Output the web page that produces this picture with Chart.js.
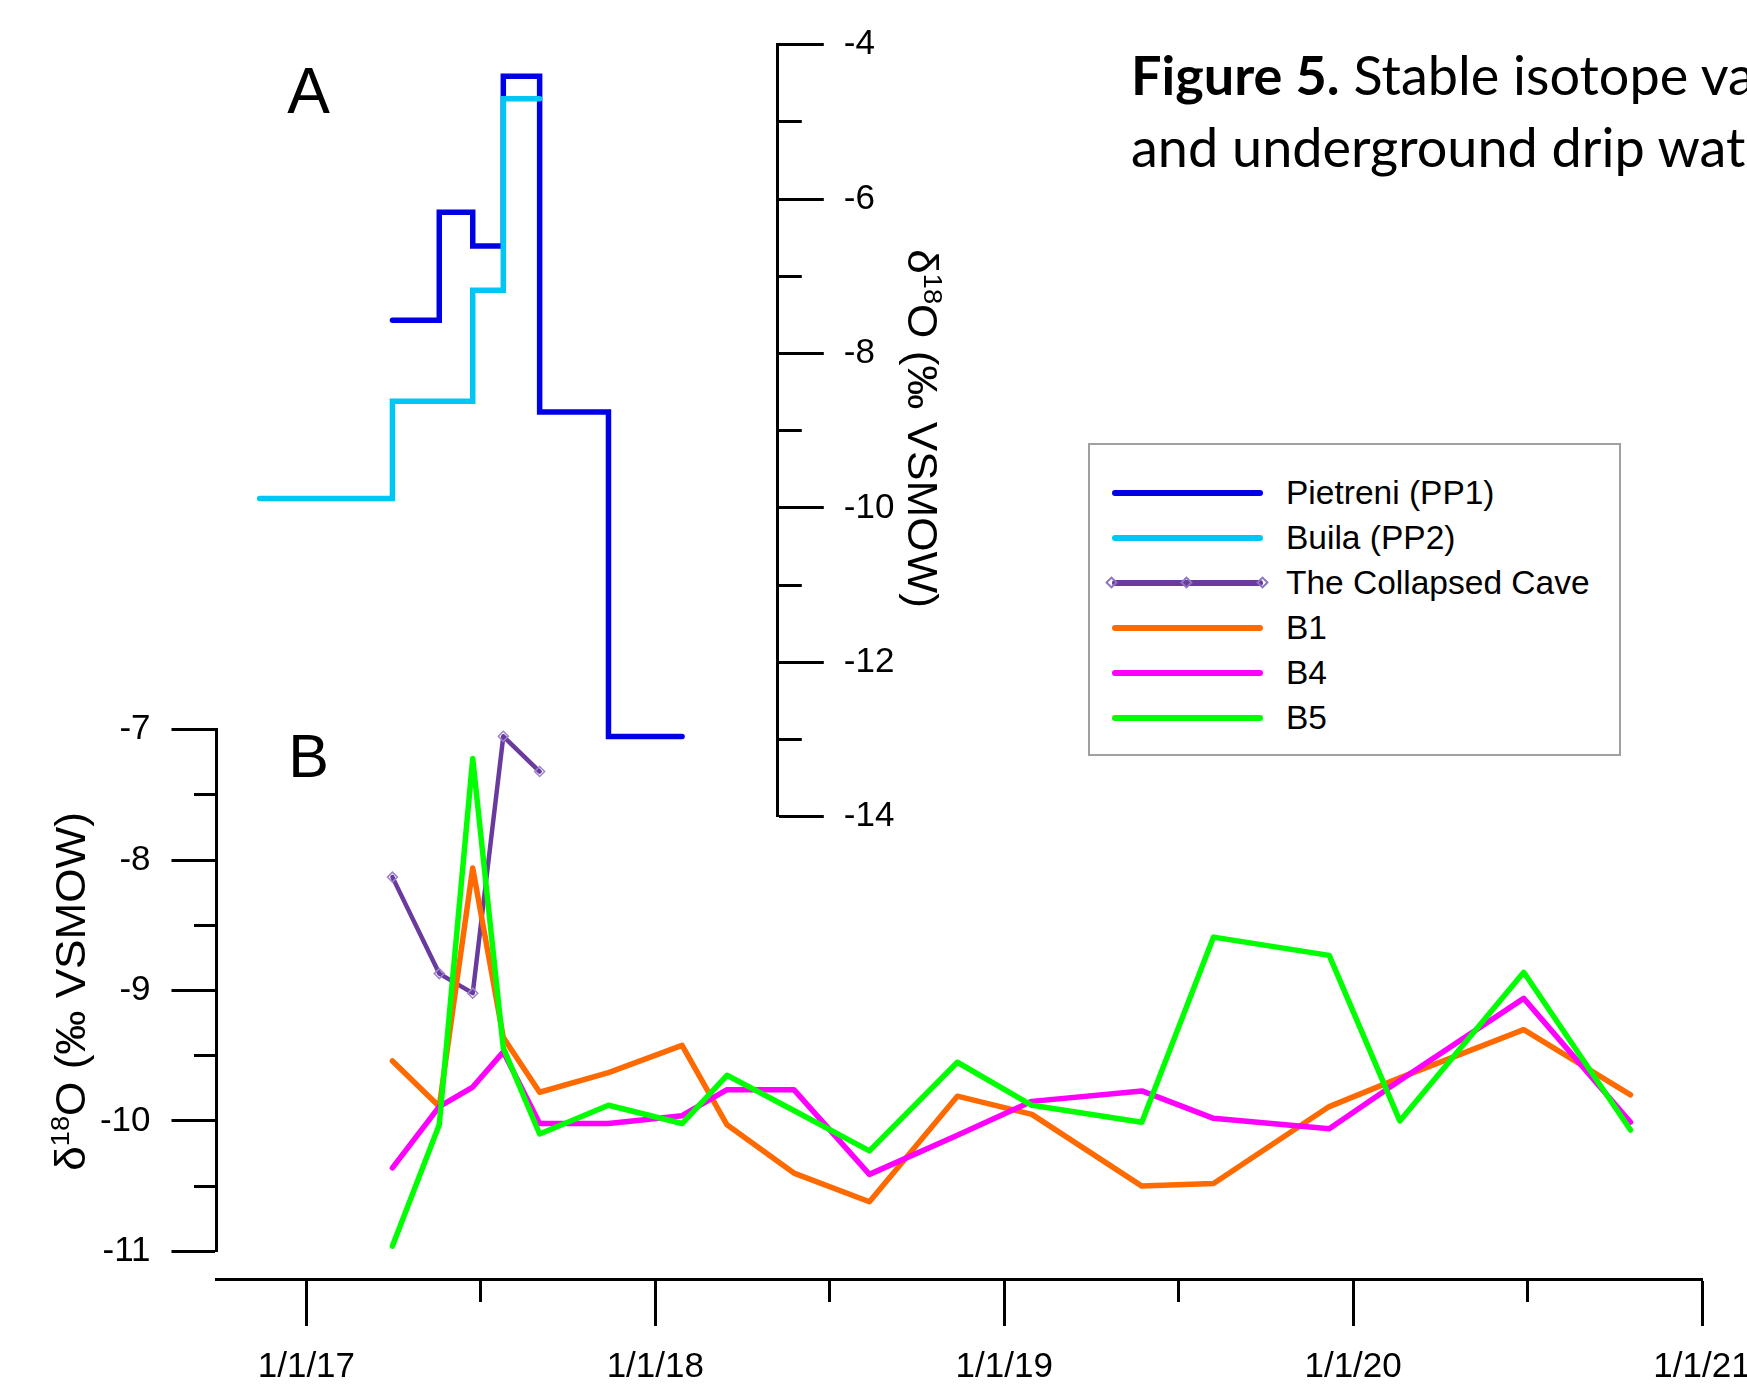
<!DOCTYPE html>
<html>
<head>
<meta charset="utf-8">
<script src="https://cdn.jsdelivr.net/npm/chart.js@4.4.1/dist/chart.umd.min.js"></script>
<style>
  html, body { margin: 0; padding: 0; background: #fff; }
  #wrap { position: relative; width: 1747px; height: 1385px; overflow: hidden; background: #fff; }
  #wrap canvas { position: absolute; left: 0; top: 0; }
  #caption {
    position: absolute; left: 1131px; top: 39px;
    font-family: Lato, "Open Sans", sans-serif; font-size: 54px; line-height: 72px;
    white-space: nowrap; color: #000;
  }
  #legend {
    position: absolute; left: 1088px; top: 443px; width: 533px; height: 313px;
    box-sizing: border-box; border: 2px solid #a0a0a0; background: #fff;
    font-family: "Liberation Sans", Arial, sans-serif; font-size: 33.5px; color: #000;
  }
  .row { position: absolute; left: 0; height: 0; }
  .sample { position: absolute; left: 22px; width: 151px; height: 6px; top: -3px; border-radius: 3px; }
  .dia { position: absolute; width: 9px; height: 9px; top: -5px; margin-left: -5px;
         transform: rotate(45deg); border: 2px solid #8f74c4; box-sizing: border-box; }
  .txt { position: absolute; left: 196px; top: -19px; white-space: nowrap; line-height: 38px; }
</style>
</head>
<body>
<div id="wrap">
  <canvas id="chartB" width="1747" height="1385"></canvas>
  <canvas id="chartA" width="1747" height="1385"></canvas>
  <div id="caption"><b>Figure 5.</b> Stable isotope values<br>and underground drip waters</div>
  <div id="legend"></div>
</div>
<script>
// Panel A: rain water (stepped)
const pp1Dates = ['2017-04-01', '2017-05-20', '2017-06-24', '2017-07-26', '2017-09-02', '2017-11-13', '2018-01-29'];
const pp1Values = [-7.57, -6.17, -6.61, -4.41, -8.76, -12.96, -12.96];
const pp2Dates = ['2016-11-13', '2017-04-01', '2017-06-24', '2017-07-26', '2017-09-02'];
const pp2Values = [-9.88, -8.62, -7.18, -4.70, -4.70];

// Panel B: drip water
const caveDates = ['2017-04-01', '2017-05-20', '2017-06-24', '2017-07-26', '2017-09-02'];
const caveValues = [-8.13, -8.87, -9.02, -7.05, -7.32];
const dripDates = ['2017-04-01', '2017-05-20', '2017-06-24', '2017-07-26', '2017-09-02', '2017-11-13',
  '2018-01-29', '2018-03-17', '2018-05-26', '2018-08-13', '2018-11-13', '2019-01-30',
  '2019-05-25', '2019-08-08', '2019-12-07', '2020-02-19', '2020-06-28', '2020-10-18'];
const b1Values = [-9.54, -9.89, -8.06, -9.36, -9.78, -9.63, -9.42, -10.03, -10.40, -10.62, -9.81, -9.95,
  -10.50, -10.48, -9.89, -9.67, -9.30, -9.80];
const b4Values = [-10.36, -9.89, -9.74, -9.47, -10.02, -10.02, -9.96, -9.76, -9.76, -10.41, -10.11, -9.85,
  -9.77, -9.98, -10.06, -9.69, -9.06, -10.01];
const b5Values = [-10.96, -10.03, -7.22, -9.44, -10.10, -9.88, -10.02, -9.65, -9.92, -10.23, -9.55, -9.88,
  -10.01, -8.59, -8.73, -10.00, -8.86, -10.07];

// tick labels
const yearTicks = [2017, 2018, 2019, 2020, 2021];
const halfYearTicks = [2017.5, 2018.5, 2019.5, 2020.5];
const ticksA = [-4, -6, -8, -10, -12, -14];
const minorTicksA = [-5, -7, -9, -11, -13];
const ticksB = [-7, -8, -9, -10, -11];
const minorTicksB = [-7.5, -8.5, -9.5, -10.5];

// layout (pixels)
const X2017 = 306.4, PX_PER_YEAR = 348.9;
const B_LEFT = 216.5, B_RIGHT = 1702, B_TOP = 729.8, B_BOTTOM = 1251.3, B_XAXIS = 1279.5;
const A_TOP = 44.6, A_BOTTOM = 816.7, A_AXIS = 777.8, A_LABELS = 200;
const xMin = 2017 - (X2017 - B_LEFT) / PX_PER_YEAR;
const xMaxA = 2017 + (A_AXIS - X2017) / PX_PER_YEAR;
const xAxisAt = -11 - (B_XAXIS - B_BOTTOM) * 4 / (B_BOTTOM - B_TOP);

const FONT = '"Liberation Sans", Arial, sans-serif';
Chart.defaults.font.family = FONT;
Chart.defaults.color = '#000';

function decimalYear(s) {
  const [y, m, d] = s.split('-').map(Number);
  const start = Date.UTC(y, 0, 1), end = Date.UTC(y + 1, 0, 1);
  return y + (Date.UTC(y, m - 1, d) - start) / (end - start);
}
function points(dates, values) {
  return dates.map((d, i) => ({ x: decimalYear(d), y: values[i] }));
}
function fixedTicks(values) {
  return scale => { scale.ticks = values.map(v => ({ value: v })); };
}
// fixed box size so the chart area lands where the picture has it
function boxSize(size) {
  return scale => {
    if (scale.isHorizontal()) scale.height = size; else scale.width = size;
    scale.paddingLeft = scale.paddingRight = scale.paddingTop = scale.paddingBottom = 0;
  };
}
function axis(opts) {
  return Object.assign({
    type: 'linear',
    afterFit: boxSize(opts.size || 0),
    grid: { drawOnChartArea: false, drawTicks: true, tickLength: opts.tick, tickWidth: 3, tickColor: '#000' },
    border: { display: !!opts.border, color: '#000', width: 3 },
    ticks: { display: !!opts.labels, autoSkip: false, maxRotation: 0, padding: opts.pad || 0,
             font: { size: 35 }, color: '#000', callback: opts.labels || (v => '') }
  }, opts.extra);
}

// δ18O title with superscript, drawn on the canvas
function isoTitle(ctx, x, y, angle, size) {
  const parts = [['δ', size, 0], ['18', Math.round(size * 0.62), -0.38 * size], ['O (‰ VSMOW)', size, 0]];
  ctx.save();
  ctx.translate(x, y);
  ctx.rotate(angle);
  ctx.scale(1.05, 1);
  ctx.fillStyle = '#000';
  ctx.textBaseline = 'alphabetic';
  let total = 0;
  parts.forEach(p => { ctx.font = p[1] + 'px ' + FONT; total += ctx.measureText(p[0]).width; });
  let cx = -total / 2;
  parts.forEach(p => {
    ctx.font = p[1] + 'px ' + FONT;
    ctx.fillText(p[0], cx, p[2]);
    cx += ctx.measureText(p[0]).width;
  });
  ctx.restore();
}
function panelDecor(letter, letterSize, letterBase, title) {
  return {
    id: 'decor' + letter,
    afterDraw(chart) {
      const ctx = chart.ctx;
      ctx.save();
      ctx.fillStyle = '#000';
      ctx.font = letterSize + 'px ' + FONT;
      ctx.textAlign = 'center';
      ctx.textBaseline = 'alphabetic';
      ctx.fillText(letter, 308.5, letterBase);
      ctx.restore();
      isoTitle(ctx, title.x, title.y, title.angle, 42);
    }
  };
}

const lineStyle = { pointRadius: 0, tension: 0, borderWidth: 5.5, borderJoinStyle: 'round', borderCapStyle: 'round',
                    xAxisID: 'x', yAxisID: 'y' };

const chartB = new Chart(document.getElementById('chartB'), {
  type: 'line',
  data: {
    datasets: [
      Object.assign({ label: 'B5', data: points(dripDates, b5Values), borderColor: '#00ff00' }, lineStyle),
      Object.assign({ label: 'B4', data: points(dripDates, b4Values), borderColor: '#ff00ff' }, lineStyle),
      Object.assign({ label: 'B1', data: points(dripDates, b1Values), borderColor: '#ff6a00' }, lineStyle),
      Object.assign({}, lineStyle, {
        label: 'The Collapsed Cave', data: points(caveDates, caveValues), borderColor: '#6a3b9e', borderWidth: 4.5,
        pointRadius: 5, pointStyle: 'rectRot', pointBorderColor: '#9c84ca', pointBackgroundColor: 'rgba(0,0,0,0)',
        pointBorderWidth: 1.5
      })
    ]
  },
  options: {
    responsive: false, animation: false, events: [],
    layout: { padding: { left: 0, right: 1747 - B_RIGHT, top: B_TOP, bottom: 1385 - B_BOTTOM } },
    plugins: { legend: { display: false }, tooltip: { enabled: false } },
    scales: {
      x: axis({ tick: 45, border: true, pad: 22, labels: v => '1/1/' + String(v).slice(2),
                extra: { position: { y: xAxisAt }, min: xMin, max: 2021, afterBuildTicks: fixedTicks(yearTicks) } }),
      xm: axis({ tick: 22, extra: { position: { y: xAxisAt }, min: xMin, max: 2021, afterBuildTicks: fixedTicks(halfYearTicks) } }),
      y: axis({ tick: 45, border: true, pad: 21, size: B_LEFT, labels: v => String(v),
                extra: { position: 'left', min: -11, max: -7, afterBuildTicks: fixedTicks(ticksB) } }),
      ym: axis({ tick: 23, extra: { position: { x: xMin }, min: -11, max: -7, afterBuildTicks: fixedTicks(minorTicksB) } })
    }
  },
  plugins: [panelDecor('B', 61, 776.5, { x: 85, y: 991.5, angle: -Math.PI / 2 })]
});

const chartA = new Chart(document.getElementById('chartA'), {
  type: 'line',
  data: {
    datasets: [
      Object.assign({}, lineStyle, { label: 'Buila (PP2)', data: points(pp2Dates, pp2Values), borderColor: '#00c6f6',
        stepped: true, borderWidth: 5.5, borderJoinStyle: 'miter' }),
      Object.assign({}, lineStyle, { label: 'Pietreni (PP1)', data: points(pp1Dates, pp1Values), borderColor: '#0000e6',
        stepped: true, borderWidth: 5.5, borderJoinStyle: 'miter' })
    ]
  },
  options: {
    responsive: false, animation: false, events: [],
    layout: { padding: { left: B_LEFT, right: 1747 - A_AXIS - A_LABELS, top: A_TOP, bottom: 1385 - A_BOTTOM } },
    plugins: { legend: { display: false }, tooltip: { enabled: false } },
    scales: {
      x: { type: 'linear', display: false, min: xMin, max: xMaxA },
      ym: axis({ tick: 24, extra: { position: 'right', weight: 0, min: -14, max: -4, afterBuildTicks: fixedTicks(minorTicksA) } }),
      y: axis({ tick: 46, border: true, pad: 20, size: A_LABELS, labels: v => String(v),
                extra: { position: 'right', weight: 1, min: -14, max: -4, afterBuildTicks: fixedTicks(ticksA) } })
    }
  },
  plugins: [panelDecor('A', 64, 113, { x: 908, y: 428.5, angle: Math.PI / 2 })]
});

// legend built from both charts' datasets
const legendSets = chartA.data.datasets.slice().reverse().concat(chartB.data.datasets.slice().reverse());
const legendBox = document.getElementById('legend');
legendSets.forEach((ds, i) => {
  const row = document.createElement('div');
  row.className = 'row';
  row.style.top = (48 + 45 * i) + 'px';
  let html = '<div class="sample" style="background:' + ds.borderColor + '"></div>';
  if (ds.pointStyle === 'rectRot') {
    [22, 97, 173].forEach(x => { html += '<div class="dia" style="left:' + x + 'px"></div>'; });
  }
  html += '<div class="txt">' + ds.label + '</div>';
  row.innerHTML = html;
  legendBox.appendChild(row);
});
</script>
</body>
</html>
